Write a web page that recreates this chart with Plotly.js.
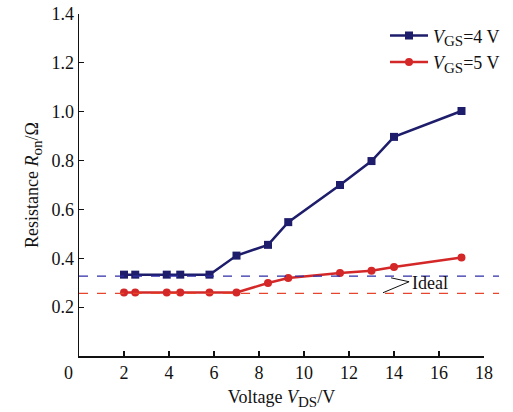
<!DOCTYPE html>
<html>
<head>
<meta charset="utf-8">
<script src="https://cdn.plot.ly/plotly-3.0.1.min.js"></script>
<style>
  html, body { margin: 0; padding: 0; background: #fff; }
  #chart { width: 513px; height: 412px; }
</style>
</head>
<body>
<div id="chart"></div>
<script>
// Drain-source voltage (V) at each measurement
const vds = [2, 2.5, 3.9, 4.5, 5.8, 7, 8.4, 9.3, 11.6, 13, 14, 17];
// On-resistance (Ω) for the two gate voltages
const ronVgs4 = [0.333, 0.333, 0.333, 0.333, 0.333, 0.411, 0.455, 0.548, 0.700, 0.798, 0.897, 1.003];
const ronVgs5 = [0.260, 0.260, 0.260, 0.260, 0.260, 0.260, 0.299, 0.319, 0.340, 0.349, 0.364, 0.403];
// Ideal resistance levels (Ω) for VGS = 4 V and VGS = 5 V
const idealLevels = [0.327, 0.256];

// subscript helper with a slightly larger subscript than the default
const sub = s => '<sub><span style="font-size:15px">' + s + '</span></sub>';
const seriesNames = ['<i>V</i>' + sub('GS') + '=4 V', '<i>V</i>' + sub('GS') + '=5 V'];
const xTicks = [2, 4, 6, 8, 10, 12, 14, 16, 18];
const yTicks = [0.2, 0.4, 0.6, 0.8, 1.0, 1.2, 1.4];

const navy = '#1d1d6b';
const red = '#d42828';
const serif = 'Liberation Serif, Times New Roman, serif';

// the plotting area spans the full right side so the legend never pushes the margins;
// the x axis itself only occupies the left part of it
const xDomainEnd = 405 / 434;

const traces = [
  {
    x: vds, y: ronVgs4, name: seriesNames[0], type: 'scatter', mode: 'lines+markers',
    line: { color: navy, width: 2.5 },
    marker: { symbol: 'square', size: 8, color: navy }
  },
  {
    x: vds, y: ronVgs5, name: seriesNames[1], type: 'scatter', mode: 'lines+markers',
    line: { color: red, width: 2.5 },
    marker: { symbol: 'circle', size: 8, color: red }
  }
];

const shapes = [
  // dashed reference lines for the ideal resistances
  { type: 'line', xref: 'paper', yref: 'y', x0: 0, x1: 420 / 434, y0: idealLevels[0], y1: idealLevels[0],
    line: { color: '#2e2ea8', width: 1.2, dash: 'dash' } },
  { type: 'line', xref: 'paper', yref: 'y', x0: 0, x1: 420 / 434, y0: idealLevels[1], y1: idealLevels[1],
    line: { color: '#e8452f', width: 1.2, dash: 'dash' } },
  // pointer from the "Ideal" label to both lines
  { type: 'line', xref: 'x', yref: 'y', x0: 13.87, y0: 0.320, x1: 14.67, y1: 0.304,
    line: { color: '#111', width: 1 } },
  { type: 'line', xref: 'x', yref: 'y', x0: 13.51, y0: 0.259, x1: 14.67, y1: 0.304,
    line: { color: '#111', width: 1 } }
];

const annotations = [
  { text: 'Ideal', xref: 'x', yref: 'y', x: 14.7, y: 0.300, xanchor: 'left', yanchor: 'middle',
    showarrow: false, font: { family: serif, size: 18, color: '#111' } },
  { text: '0', xref: 'paper', yref: 'paper', x: 0, y: 0, xanchor: 'center', yanchor: 'top',
    xshift: -11, yshift: -5, showarrow: false, font: { family: serif, size: 18, color: '#111' } }
];

const layout = {
  width: 513, height: 412,
  margin: { l: 79, r: 0, t: 14, b: 56 },
  paper_bgcolor: '#fff', plot_bgcolor: '#fff',
  font: { family: serif, size: 18, color: '#111' },
  showlegend: true,
  legend: {
    x: 306 / 434, y: 0.99, xanchor: 'left', yanchor: 'top',
    bgcolor: 'rgba(0,0,0,0)', font: { family: serif, size: 18, color: '#111' },
    itemwidth: 38, tracegroupgap: 2
  },
  xaxis: {
    domain: [0, xDomainEnd],
    range: [0, 18], tickvals: xTicks, ticktext: xTicks.map(String),
    showgrid: false, zeroline: false, showline: true, linecolor: '#111', linewidth: 1.5,
    ticks: 'inside', ticklen: 5, tickcolor: '#111', tickwidth: 1.2,
    tickfont: { family: serif, size: 18, color: '#111' },
    title: { text: 'Voltage <i>V</i>' + sub('DS') + '/V', font: { family: serif, size: 18, color: '#111' }, standoff: 8 }
  },
  yaxis: {
    range: [0, 1.4], tickvals: yTicks, ticktext: yTicks.map(v => v.toFixed(1)),
    showgrid: false, zeroline: false, showline: true, linecolor: '#111', linewidth: 1.5,
    ticks: 'inside', ticklen: 5, tickcolor: '#111', tickwidth: 1.2,
    tickfont: { family: serif, size: 18, color: '#111' },
    title: { text: 'Resistance <i>R</i>' + sub('on') + '/Ω', font: { family: serif, size: 18, color: '#111' }, standoff: 8 }
  },
  shapes: shapes,
  annotations: annotations
};

Plotly.newPlot('chart', traces, layout, { displayModeBar: false, staticPlot: true });
</script>
</body>
</html>
